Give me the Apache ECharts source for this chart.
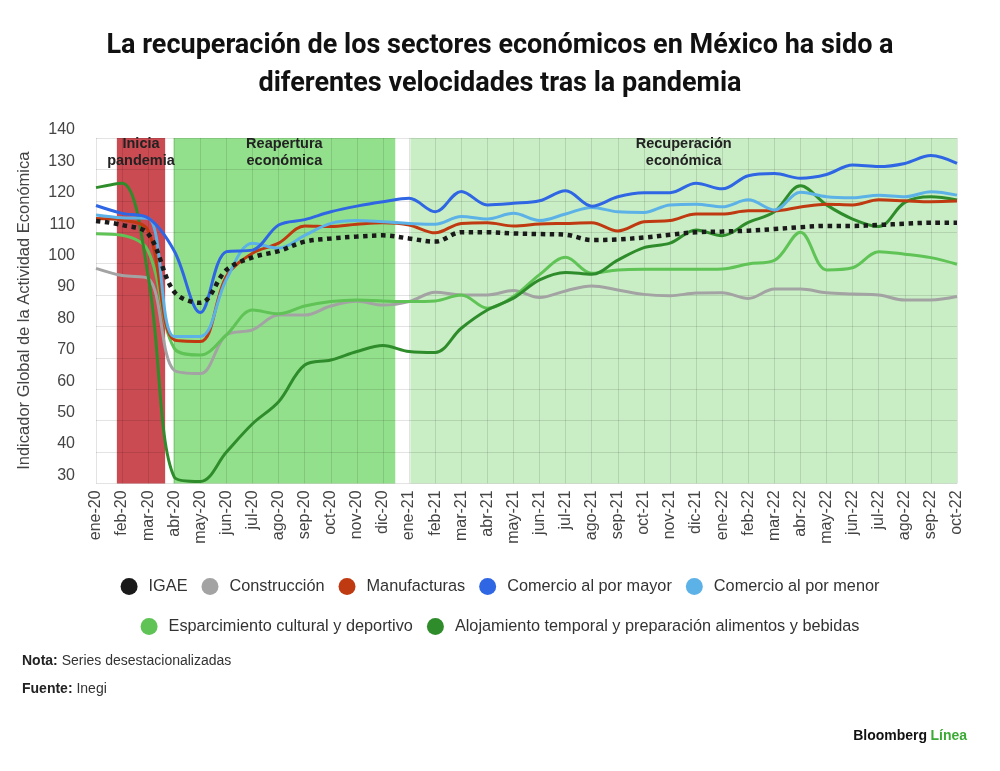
<!DOCTYPE html>
<html><head><meta charset="utf-8">
<script src="https://cdn.jsdelivr.net/npm/echarts/dist/echarts.min.js"></script>
<style>html,body{margin:0;padding:0;background:#fff;}#c{width:1000px;height:771px;}</style>
</head><body><div id="c"></div>
<script>
const months = ['ene-20','feb-20','mar-20','abr-20','may-20','jun-20','jul-20','ago-20','sep-20','oct-20','nov-20','dic-20',
  'ene-21','feb-21','mar-21','abr-21','may-21','jun-21','jul-21','ago-21','sep-21','oct-21','nov-21','dic-21',
  'ene-22','feb-22','mar-22','abr-22','may-22','jun-22','jul-22','ago-22','sep-22','oct-22'];
const igae = [113.6,112.3,109.5,91,87.5,98,102,104,107,108,108.6,109,108,107,110,110,109.6,109.4,109.2,107.5,107.7,108.3,109.2,110,110.2,110.5,111,111.6,112,112,112.3,112.7,113,113];
const construccion = [98.5,96.2,95.3,66,65,77.3,78.9,83.6,83.6,86.5,88,86.8,87.9,90.9,90,90,91.4,89.2,91.3,92.9,91.6,90.2,89.8,90.6,90.7,88.9,91.9,91.9,90.7,90.3,90,88.4,88.4,89.5];
const manufacturas = [114.4,113.9,110.5,75.7,75.2,96,103.3,106.5,112,111.8,112.5,113,112.3,109.8,112.8,113,112,112.6,112.8,113,110.4,113.3,113.7,115.8,115.8,116.8,116.8,118,118.9,118.7,120.3,120,119.7,119.9];
const porMayor = [118.5,116,114.5,104,84.4,103.8,104.3,112.3,114,116.5,118.3,119.7,120.8,116.5,123,118.7,119.2,120,123.2,118.3,121.3,122.6,122.6,125.6,123.8,128,128.7,127.2,128.4,131.4,130.9,131.9,134.4,131.9];
const porMenor = [115.5,114.6,114.4,76.8,76.8,95,106.5,104.9,109,112.8,113.7,113.3,112.8,112.5,115,114.2,116,113.7,115.8,117.9,116.5,116.3,118.7,118.9,118.1,120.3,117.1,122.7,121.3,121,121.8,121.3,122.9,121.8];
const esparcimiento = [109.5,109,104,73,70.9,77.3,85.2,84,86.5,87.9,88.4,88.1,87.9,88.1,90,85.8,89.5,96.5,102,96.9,98,98.2,98.2,98.2,98.3,99.9,101,110,98,98.7,103.8,103,101.9,99.8];
const alojamiento = [124.2,125.6,96,32,30.6,40,49,56,67.7,69.3,72,73.9,72,71.7,79.4,85.2,89,94.8,97.2,96.6,101.1,105.1,106.5,110.7,108.9,113.1,116.5,124.8,118.7,114.2,111.8,119.5,121.3,120.3];

// periods (in month index units along the x axis)
const bandNames = ['Inicia\npandemia','Reapertura\neconómica','Recuperación\neconómica'];
const bandStart = [0.8, 2.97, 12.05];
const bandEnd = [2.65, 11.47, 33];

const Y_MIN = 30, Y_MAX = 140;
const bandColors = ['#cb4b52','#93e08c','#c9eec5'];
const FONT = 'Liberation Sans, Arial, sans-serif';

const names = ['IGAE','Construcción','Manufacturas','Comercio al por mayor','Comercio al por menor','Esparcimiento cultural y deportivo','Alojamiento temporal y preparación alimentos y bebidas'];
const colors = ['#1a1a1a','#a3a3a3','#bf3a10','#2f66e4','#5cb2e6','#5fc356','#2f8c2b'];
const values = [igae, construccion, manufacturas, porMayor, porMenor, esparcimiento, alojamiento];

const bandData = bandStart.map((s,i)=>[s, bandEnd[i], Y_MIN, Y_MAX]);

const lineSeries = names.map((n,i)=>({
  name: n, type:'line', data: values[i], smooth: 0.35, symbol:'none',
  xAxisIndex:0, yAxisIndex:0,
  itemStyle:{color: colors[i]},
  lineStyle: i===0 ? {color: colors[i], width:4.5, type:[4.5,4.5], cap:'butt'} : {color: colors[i], width:3},
  z: i===0 ? 10 : 3
}));
const order = [1,5,6,2,4,3,0];

const legendText = {fontFamily:FONT, fontSize:16.3, color:'#333', padding:[0,0,0,6]};

const chart = echarts.init(document.getElementById('c'));
chart.setOption({
  animation:false,
  backgroundColor:'#fff',
  title:{
    text:'La recuperación de los sectores económicos en México ha sido a\ndiferentes velocidades tras la pandemia',
    left:'center', top:22,
    textStyle:{fontFamily:'Roboto, '+FONT, fontWeight:'bold', fontSize:27, lineHeight:38, color:'#111'}
  },
  grid:{left:96, right:43, top:138, bottom:287.6, containLabel:false},
  legend:[
    {data:names.slice(0,5), top:573, left:'center', icon:'circle', itemWidth:17, itemHeight:17, itemGap:14, selectedMode:false,
     textStyle:legendText},
    {data:names.slice(5), top:613, left:'center', icon:'circle', itemWidth:17, itemHeight:17, itemGap:14, selectedMode:false,
     textStyle:legendText}
  ],
  xAxis:[
    {type:'category', data:months, boundaryGap:false,
     axisLine:{show:false}, axisTick:{show:false},
     axisLabel:{rotate:90, margin:7, fontFamily:FONT, fontSize:16, color:'#444', interval:0},
     splitLine:{show:true, lineStyle:{color:'rgba(0,0,0,0.11)', width:1}}},
    {type:'value', min:0, max:months.length-1, show:false}
  ],
  yAxis:{
    type:'value', min:Y_MIN, max:Y_MAX, interval:10,
    name:'Indicador Global de la Actividad Económica', nameLocation:'middle', nameGap:63,
    nameTextStyle:{fontFamily:FONT, fontSize:16.5, color:'#444'},
    axisLine:{show:false}, axisTick:{show:false},
    axisLabel:{margin:21, fontFamily:FONT, fontSize:16, color:'#444', verticalAlign:'bottom'},
    splitLine:{lineStyle:{color:'rgba(0,0,0,0.11)', width:1}}
  },
  series:[
    {type:'custom', name:'bands', xAxisIndex:1, yAxisIndex:0, z:-1, silent:true,
     encode:{x:[0,1], y:[2,3]}, data:bandData,
     renderItem:function(params, api){
       const p1 = api.coord([api.value(0), api.value(3)]);
       const p2 = api.coord([api.value(1), api.value(2)]);
       return {type:'rect', shape:{x:p1[0], y:p1[1], width:p2[0]-p1[0], height:p2[1]-p1[1]},
               style:{fill:bandColors[params.dataIndex]}};
     }},
    {type:'custom', name:'bandLabels', xAxisIndex:1, yAxisIndex:0, z:4, silent:true,
     encode:{x:[0,1], y:[2,3]}, data:bandData,
     renderItem:function(params, api){
       const p1 = api.coord([api.value(0), api.value(3)]);
       const p2 = api.coord([api.value(1), api.value(2)]);
       return {type:'text', x:(p1[0]+p2[0])/2, y:p1[1]-2,
               style:{text:bandNames[params.dataIndex], align:'center', verticalAlign:'top',
                      fontFamily:FONT, fontWeight:'bold', fontSize:14.5, lineHeight:16.5, fill:'#222'}};
     }}
  ].concat(order.map(i=>lineSeries[i])),
  graphic:[
    {type:'text', left:22, top:654, style:{text:'{b|Nota:} Series desestacionalizadas',
      rich:{b:{fontWeight:'bold', fontSize:14, fontFamily:FONT, fill:'#222'}}, fontSize:14, fontFamily:FONT, fill:'#333'}},
    {type:'text', left:22, top:682, style:{text:'{b|Fuente:} Inegi',
      rich:{b:{fontWeight:'bold', fontSize:14, fontFamily:FONT, fill:'#222'}}, fontSize:14, fontFamily:FONT, fill:'#333'}},
    {type:'text', right:33, top:729, style:{text:'{a|Bloomberg} {g|Línea}',
      rich:{a:{fontWeight:'bold', fontSize:14, fontFamily:FONT, fill:'#111'}, g:{fontWeight:'bold', fontSize:14, fontFamily:FONT, fill:'#3aaa35'}}}}
  ]
});
</script></body></html>
